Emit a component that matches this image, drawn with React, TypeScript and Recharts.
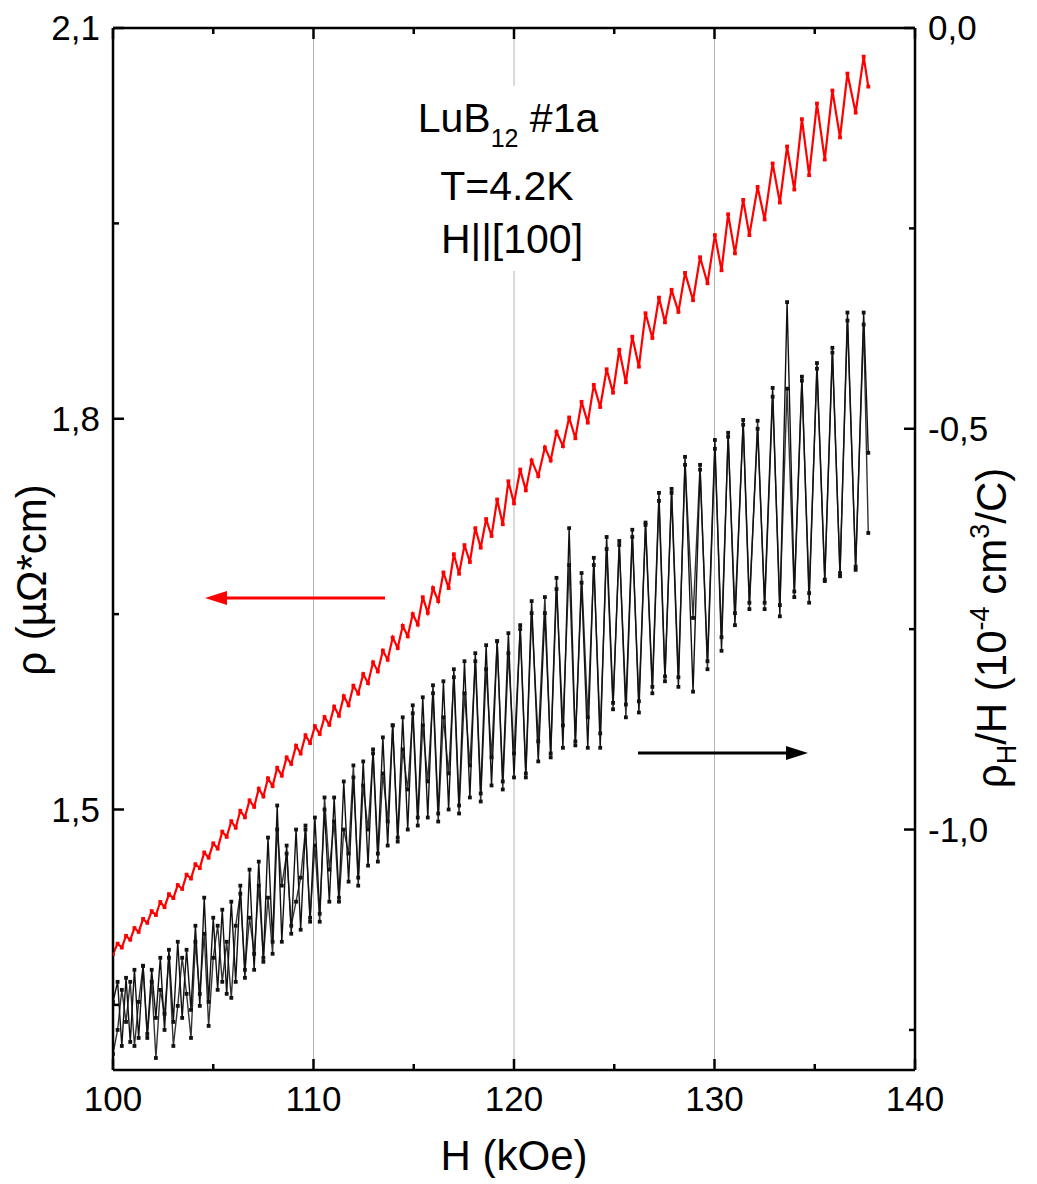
import { LineChart, Line, XAxis, YAxis, ReferenceLine } from 'recharts'

const fieldKOe = [
  100.0, 100.23, 100.44, 100.65, 100.86, 101.07, 101.28, 101.5, 101.71, 101.93,
  102.14, 102.36, 102.57, 102.79, 103.01, 103.23, 103.45, 103.67, 103.89, 104.11,
  104.33, 104.55, 104.77, 105.0, 105.22, 105.45, 105.67, 105.9, 106.12, 106.35,
  106.58, 106.81, 107.04, 107.27, 107.5, 107.73, 107.96, 108.19, 108.42, 108.66,
  108.89, 109.13, 109.36, 109.6, 109.83, 110.07, 110.31, 110.55, 110.79, 111.03,
  111.27, 111.51, 111.75, 111.99, 112.23, 112.48, 112.72, 112.97, 113.21, 113.46,
  113.7, 113.95, 114.2, 114.45, 114.7, 114.95, 115.2, 115.45, 115.7, 115.96,
  116.22, 116.48, 116.74, 117.0, 117.26, 117.53, 117.8, 118.07, 118.34, 118.61,
  118.88, 119.16, 119.44, 119.72, 120.0, 120.31, 120.59, 120.88, 121.21, 121.54,
  121.83, 122.12, 122.44, 122.75, 123.06, 123.37, 123.68, 123.98, 124.3, 124.62,
  124.94, 125.25, 125.58, 125.9, 126.23, 126.56, 126.9, 127.23, 127.53, 127.86,
  128.2, 128.53, 128.93, 129.28, 129.65, 130.02, 130.35, 130.68, 131.02, 131.43,
  131.74, 132.15, 132.5, 132.9, 133.26, 133.62, 133.98, 134.36, 134.72, 135.11,
  135.5, 135.88, 136.26, 136.63, 137.04, 137.44, 137.67,
]

// rho, µΩ*cm (left axis)
const rho = [
  1.389, 1.397, 1.394, 1.403, 1.4, 1.409, 1.406, 1.416, 1.413, 1.422,
  1.419, 1.429, 1.425, 1.435, 1.432, 1.442, 1.439, 1.45, 1.447, 1.458,
  1.455, 1.467, 1.463, 1.474, 1.47, 1.483, 1.479, 1.491, 1.486, 1.499,
  1.494, 1.507, 1.502, 1.516, 1.51, 1.524, 1.518, 1.532, 1.526, 1.54,
  1.535, 1.549, 1.543, 1.557, 1.551, 1.564, 1.558, 1.571, 1.565, 1.579,
  1.572, 1.587, 1.58, 1.595, 1.589, 1.604, 1.597, 1.613, 1.606, 1.622,
  1.615, 1.632, 1.624, 1.641, 1.633, 1.65, 1.642, 1.663, 1.651, 1.67,
  1.66, 1.682, 1.67, 1.696, 1.681, 1.703, 1.69, 1.716, 1.701, 1.723,
  1.71, 1.738, 1.719, 1.752, 1.735, 1.761, 1.745, 1.768, 1.756, 1.778,
  1.768, 1.79, 1.779, 1.801, 1.785, 1.813, 1.797, 1.826, 1.809, 1.838,
  1.82, 1.853, 1.828, 1.863, 1.84, 1.881, 1.862, 1.893, 1.874, 1.899,
  1.882, 1.912, 1.891, 1.924, 1.904, 1.941, 1.914, 1.957, 1.927, 1.968,
  1.941, 1.978, 1.953, 1.996, 1.966, 2.009, 1.976, 2.03, 1.987, 2.042,
  1.999, 2.052, 2.016, 2.065, 2.035, 2.078, 2.055,
]

// rho_H/H, 10^-4 cm^3/C (right axis), two field sweeps
const hallUp = [
  -1.215, -1.19, -1.27, -1.185, -1.265, -1.175, -1.26, -1.17, -1.255, -1.175,
  -1.235, -1.16, -1.25, -1.15, -1.24, -1.14, -1.235, -1.15, -1.225, -1.12,
  -1.22, -1.085, -1.215, -1.11, -1.2, -1.1, -1.205, -1.09, -1.19, -1.07,
  -1.185, -1.05, -1.175, -1.04, -1.165, -1.01, -1.14, -0.97, -1.14, -1.02,
  -1.13, -1.0, -1.125, -0.995, -1.115, -0.985, -1.105, -0.975, -1.09, -0.96,
  -1.085, -0.94, -1.065, -0.935, -1.06, -0.915, -1.045, -0.9, -1.03, -0.885,
  -1.02, -0.87, -1.01, -0.86, -1.0, -0.845, -0.985, -0.835, -0.985, -0.82,
  -0.98, -0.815, -0.975, -0.8, -0.97, -0.79, -0.96, -0.78, -0.955, -0.77,
  -0.945, -0.765, -0.94, -0.755, -0.935, -0.745, -0.93, -0.715, -0.915, -0.73,
  -0.905, -0.686, -0.898, -0.624, -0.89, -0.692, -0.898, -0.661, -0.898, -0.635,
  -0.842, -0.645, -0.844, -0.626, -0.854, -0.617, -0.822, -0.58, -0.809, -0.58,
  -0.822, -0.535, -0.828, -0.551, -0.79, -0.514, -0.777, -0.505, -0.745, -0.489,
  -0.717, -0.5, -0.717, -0.449, -0.734, -0.342, -0.703, -0.435, -0.717, -0.418,
  -0.688, -0.399, -0.684, -0.355, -0.676, -0.355, -0.53,
]

const hallDown = [
  -1.28, -1.25, -1.2, -1.24, -1.19, -1.27, -1.215, -1.17, -1.26, -1.19,
  -1.285, -1.2, -1.23, -1.16, -1.27, -1.22, -1.16, -1.205, -1.26, -1.14,
  -1.205, -1.13, -1.245, -1.16, -1.12, -1.19, -1.14, -1.21, -1.12, -1.08,
  -1.175, -1.11, -1.155, -1.07, -1.16, -1.085, -1.155, -1.0, -1.07, -1.03,
  -1.12, -1.09, -1.06, -1.0, -1.11, -1.02, -1.115, -0.96, -1.05, -0.99,
  -1.09, -1.0, -1.03, -0.92, -1.07, -0.945, -1.0, -0.905, -1.04, -0.93,
  -0.99, -0.87, -1.015, -0.9, -0.95, -0.855, -0.995, -0.87, -0.94, -0.83,
  -0.99, -0.86, -0.93, -0.81, -0.98, -0.83, -0.92, -0.79, -0.965, -0.8,
  -0.91, -0.765, -0.95, -0.78, -0.905, -0.75, -0.935, -0.73, -0.89, -0.71,
  -0.91, -0.7, -0.87, -0.67, -0.895, -0.68, -0.86, -0.67, -0.88, -0.65,
  -0.85, -0.64, -0.86, -0.635, -0.84, -0.62, -0.83, -0.59, -0.815, -0.575,
  -0.81, -0.545, -0.736, -0.545, -0.8, -0.525, -0.76, -0.51, -0.73, -0.495,
  -0.725, -0.49, -0.725, -0.46, -0.72, -0.45, -0.71, -0.44, -0.705, -0.425,
  -0.69, -0.405, -0.68, -0.365, -0.672, -0.37, -0.63,
]

const xTicks = [100, 105, 110, 115, 120, 125, 130, 135, 140]
const xGrid = [110, 120, 130]
const rhoTicks = [1.35, 1.5, 1.65, 1.8, 1.95, 2.1]
const hallTicks = [-1.25, -1.0, -0.75, -0.5, -0.25, 0]

const data = fieldKOe.map((h, i) => ({
  h,
  rho: rho[i],
  hallUp: hallUp[i],
  hallDown: hallDown[i],
}))

const W = 1020
const H = 1170
const PLOT_LEFT = 105
const PLOT_RIGHT = 907
const PLOT_TOP = 20
const PLOT_BOTTOM = 1062
const FONT = '"Liberation Sans", Arial, sans-serif'
const TICK_W = 2.5

const fmt = (v: number) => v.toFixed(1).replace('.', ',')
const isMinorY = (v: number) => Math.abs(v * 10 - Math.round(v * 10)) > 0.01

const XTick = (props: any) => {
  const { x, payload } = props
  const v = payload.value
  const major = v % 10 === 0
  const len = major ? 11 : 6
  return (
    <g>
      <line x1={x} x2={x} y1={PLOT_BOTTOM} y2={PLOT_BOTTOM - len} stroke="#000" strokeWidth={TICK_W} />
      <line x1={x} x2={x} y1={PLOT_TOP} y2={PLOT_TOP + len} stroke="#000" strokeWidth={TICK_W} />
      {major && (
        <text x={x} y={PLOT_BOTTOM + 41} textAnchor="middle" fontSize={35} fontFamily={FONT} fill="#000">
          {v}
        </text>
      )}
    </g>
  )
}

const RhoTick = (props: any) => {
  const { y, payload } = props
  const v = payload.value
  const minor = isMinorY(v)
  return (
    <g>
      <line x1={PLOT_LEFT} x2={PLOT_LEFT + (minor ? 6 : 11)} y1={y} y2={y} stroke="#000" strokeWidth={TICK_W} />
      {!minor && (
        <text x={PLOT_LEFT - 13} y={y} dy={12} textAnchor="end" fontSize={35} fontFamily={FONT} fill="#000">
          {fmt(v)}
        </text>
      )}
    </g>
  )
}

const HallTick = (props: any) => {
  const { y, payload } = props
  const v = payload.value
  const minor = isMinorY(v)
  return (
    <g>
      <line x1={PLOT_RIGHT} x2={PLOT_RIGHT - (minor ? 6 : 11)} y1={y} y2={y} stroke="#000" strokeWidth={TICK_W} />
      {!minor && (
        <text x={PLOT_RIGHT + 13} y={y} dy={12} textAnchor="start" fontSize={35} fontFamily={FONT} fill="#000">
          {fmt(v)}
        </text>
      )}
    </g>
  )
}

const squareDot = (color: string) => (props: any) => {
  const { cx, cy, index } = props
  if (cx == null || cy == null) return <g key={`d-${index}`} />
  return <rect key={`d-${index}`} x={cx - 1.9} y={cy - 1.9} width={3.8} height={3.8} fill={color} />
}

export default function App() {
  return (
    <div style={{ position: 'relative', width: W, height: H }}>
      <LineChart width={W} height={H} data={data} margin={{ top: PLOT_TOP, right: 0, bottom: 0, left: 0 }}>
        <XAxis
          dataKey="h"
          type="number"
          domain={[100, 140]}
          ticks={xTicks}
          interval={0}
          height={H - PLOT_BOTTOM}
          tick={XTick}
          tickLine={false}
          axisLine={{ stroke: '#000', strokeWidth: 2.5 }}
          allowDataOverflow
        />
        <YAxis
          yAxisId="rho"
          orientation="left"
          domain={[1.3, 2.1]}
          ticks={rhoTicks}
          interval={0}
          width={PLOT_LEFT}
          tick={RhoTick}
          tickLine={false}
          axisLine={{ stroke: '#000', strokeWidth: 2.5 }}
          allowDataOverflow
        />
        <YAxis
          yAxisId="hall"
          orientation="right"
          domain={[-1.3, 0]}
          ticks={hallTicks}
          interval={0}
          width={W - PLOT_RIGHT}
          tick={HallTick}
          tickLine={false}
          axisLine={{ stroke: '#000', strokeWidth: 2.5 }}
          allowDataOverflow
        />
        {xGrid.map((g) => (
          <ReferenceLine key={g} x={g} yAxisId="rho" stroke="#b4b4b4" strokeWidth={1} />
        ))}
        <ReferenceLine y={2.1} yAxisId="rho" stroke="#000" strokeWidth={2.5} />
        <Line
          yAxisId="hall"
          dataKey="hallDown"
          type="linear"
          stroke="#333"
          strokeWidth={1.4}
          dot={squareDot('#111')}
          isAnimationActive={false}
        />
        <Line
          yAxisId="hall"
          dataKey="hallUp"
          type="linear"
          stroke="#111"
          strokeWidth={1.4}
          dot={squareDot('#111')}
          isAnimationActive={false}
        />
        <Line
          yAxisId="rho"
          dataKey="rho"
          type="linear"
          stroke="#ff0000"
          strokeWidth={2.2}
          dot={squareDot('#ff0000')}
          isAnimationActive={false}
        />
      </LineChart>
      <svg
        width={W}
        height={H}
        style={{ position: 'absolute', left: 0, top: 0, pointerEvents: 'none' }}
        fontFamily={FONT}
      >
        <rect x={394} y={78} width={212} height={185} fill="#fff" />
        <text x={500} y={124} textAnchor="middle" fontSize={41} fill="#000">
          LuB
          <tspan fontSize={25} dy={15}>12</tspan>
          <tspan dy={-15}> #1a</tspan>
        </text>
        <text x={499} y={192} textAnchor="middle" fontSize={41} fill="#000">
          T=4.2K
        </text>
        <text x={504} y={245} textAnchor="middle" fontSize={41} fill="#000">
          H||[100]
        </text>

        <line x1={377} x2={212} y1={590} y2={590} stroke="#ff0000" strokeWidth={3} />
        <polygon points="197,590 219,583 219,597" fill="#ff0000" />
        <line x1={630} x2={784} y1={745} y2={745} stroke="#000" strokeWidth={3} />
        <polygon points="800,745 778,738 778,752" fill="#000" />

        <text
          x={38}
          y={572}
          transform="rotate(-90 38 572)"
          textAnchor="middle"
          fontSize={42}
          fill="#000"
        >
          ρ (µΩ*cm)
        </text>
        <text
          x={998}
          y={620}
          transform="rotate(-90 998 620)"
          textAnchor="middle"
          fontSize={42}
          fill="#000"
        >
          ρ<tspan fontSize={27} dy={10}>H</tspan>
          <tspan dy={-10}>/H (10</tspan>
          <tspan fontSize={27} dy={-17}>-4</tspan>
          <tspan dy={17}> cm</tspan>
          <tspan fontSize={27} dy={-17}>3</tspan>
          <tspan dy={17}>/C)</tspan>
        </text>
        <text x={506} y={1162} textAnchor="middle" fontSize={42} fill="#000">
          H (kOe)
        </text>
      </svg>
    </div>
  )
}
